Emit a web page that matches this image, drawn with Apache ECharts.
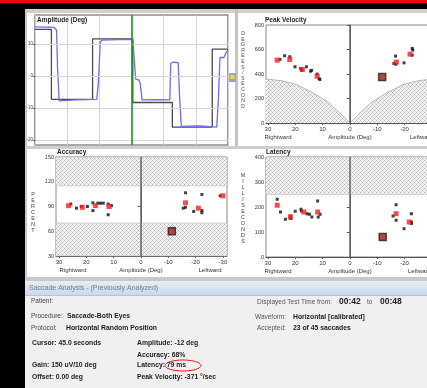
<!DOCTYPE html>
<html><head><meta charset="utf-8">
<script src="https://cdn.jsdelivr.net/npm/echarts@6/dist/echarts.min.js"></script>
<style>html,body{margin:0;padding:0;background:#000;}#c{width:427px;height:388px;}</style>
</head><body><div id="c"></div>
<script>
// ---------- data ----------
const traceTimeTicks = [42, 43, 44, 45, 46, 47, 48];
const traceYTicks = [-20, -10, 0, 10];
const cursorTime = 45.0;
const targetTrace = [[42,14.6],[42.51,14.6],[42.51,-7.3],[43.79,-7.3],[43.79,11.6],[45.04,11.6],[45.04,-8.3],[46.27,-8.3],[46.27,-16.0],[47.51,-16.0],[47.51,8.4],[48,8.4]];
const eyeTrace = [[42,15.4],[42.59,15.2],[42.67,14.4],[42.70,2.9],[42.75,-7.8],[43.27,-7.5],[43.92,-7.3],[43.97,-2.3],[44.03,10.7],[44.10,11.25],[44.6,11.4],[45.04,11.5],[45.09,11.25],[45.13,-1.0],[45.23,-1.25],[45.27,-2.3],[45.33,-7.5],[45.8,-7.4],[46.19,-7.5],[46.22,4.0],[46.29,4.3],[46.45,4.2],[46.5,-7.5],[46.55,-15.8],[47.12,-15.6],[47.65,-16.0],[47.70,-7.5],[47.75,5.8],[47.87,5.8],[47.94,7.3],[48.0,8.1]];

const ampTicks = [30, 20, 10, 0, -10, -20, -30];

const velBoundary = [[31,360],[25,345],[20,318],[14,253],[8,171],[3.3,73],[0,0],[-3.3,73],[-8,171],[-14,253],[-20,318],[-25,345],[-31.5,362]];
const velBlack = [[25.6,519],[23.9,549],[22,541],[20.1,459],[18,445],[17.6,430],[15.9,459],[14.4,423],[14,430],[12,399],[11.3,363],[11,355],[-16.7,546],[-16.1,486],[-16.8,480],[-19.8,491],[-22.8,554],[-22.8,609],[-23,595]];
const velRed = [[26.6,513],[22,519],[17.4,437],[12,382],[-17,497],[-22,562]];
const velSelected = [[-11.8,375]];

const accNormalBand = [70, 115];
const accBlack = [[25.7,93],[23.6,88],[21.8,90],[19.6,90],[17.6,85],[17.6,94.5],[15.8,94],[14.8,94],[13.8,94],[12,93],[10.8,91],[12,80],[-16.3,106.6],[-15.5,88],[-16.3,89],[-19.3,84],[-22.3,85],[-22.3,82.5],[-22.3,104.6],[-29,103]];
const accRed = [[26.5,91],[21.5,89],[16.7,91],[11.7,90],[-16.3,94.5],[-21,88],[-30,103]];
const accSelected = [[-11.3,60]];

const latLimit = 250;
const latBlack = [[26.6,231],[25.4,180],[23.6,151],[21.8,164],[21.6,154],[20,183],[17.9,191],[17.7,184],[15.7,173],[14.8,171],[13.9,160],[11.8,224],[11.6,160],[10.9,171],[-15.8,164],[-16.9,209],[-16.9,147],[-19.8,113],[-22.5,173],[-22.5,140],[-22.5,134]];
const latRed = [[26.6,207],[21.8,160],[16.9,180],[11.8,180],[-16.9,173],[-21.7,140]];
const latSelected = [[-12,80]];

// ---------- styles ----------
const hatch = document.createElement('canvas');
hatch.width = 4; hatch.height = 4;
(function(){const g=hatch.getContext('2d');g.fillStyle='#f4f4f4';g.fillRect(0,0,4,4);g.fillStyle='#b4b4b4';g.fillRect(0,0,1,1);g.fillRect(2,2,1,1);g.fillStyle='#d2d2d2';g.fillRect(1,1,1,1);g.fillRect(3,3,1,1);g.fillRect(3,1,1,1);g.fillRect(1,3,1,1);})();
const hatchFill = {image: hatch, repeat: 'repeat'};

const F = 'Liberation Sans, Arial, sans-serif';
const tinyLab = {fontSize: 5.5, color: '#333', fontFamily: F};

function ampX(gi){
  return {type:'value', gridIndex: gi, inverse: true, min: -31.5, max: gi===2 ? 31.1 : 30.7,
    axisLine:{show:true, lineStyle:{color:'#555'}},
    axisTick:{show:true, customValues: ampTicks, length: 2, lineStyle:{color:'#555'}},
    axisLabel:{customValues: ampTicks, ...tinyLab, fontSize: 6, margin: 3, hideOverlap:false},
    splitLine:{show:false}};
}
function valY(gi, min, max, iv){
  return {type:'value', gridIndex: gi, min, max, interval: iv,
    axisLine:{show:true, lineStyle:{color:'#555'}},
    axisTick:{show:true, length: 3, lineStyle:{color:'#555'}},
    axisLabel:{...tinyLab, margin: 2},
    splitLine:{show:false}};
}
function centerLine(){
  return {silent:true, symbol:'none', label:{show:false}, lineStyle:{color:'#666', width:1.5, type:'solid'}, data:[{xAxis:0}]};
}
function pts(gi, data, kind){
  const st = kind==='black' ? {symbolSize:3, itemStyle:{color:'#111'}} :
             kind==='red' ? {symbolSize:5, itemStyle:{color:'#ff1a1a'}} :
             {symbolSize:7, itemStyle:{color:'#b01818', borderColor:'#222', borderWidth:1.5}};
  return {type:'scatter', xAxisIndex: gi, yAxisIndex: gi, data, symbol:'rect', silent:true, z: kind==='sel'?6:(kind==='red'?5:4), ...st};
}
function txt(x, y, s, o){
  o = o || {};
  return {type:'text', x, y, z: 100, silent:true, style:{text:s, fontSize:o.size||7, fontWeight:o.bold?'bold':'normal', fontFamily:o.font||F, fill:o.color||'#222', align:o.align||'left', verticalAlign:'middle', lineHeight:o.lh}};
}
function rect(x,y,w,h,fill,z){
  return {type:'rect', z: z===undefined?-10:z, silent:true, shape:{x,y,width:w,height:h}, style:{fill}};
}
function vert(s){ return s.split('').join('\n'); }

const graphic = [
  rect(0,0,427,388,'#000',-20),
  rect(0,0,427,3,'#e01010',-19),
  rect(25,9,402,270,'#ffffff',-19),
  rect(25,9,402,4,'#d0d0d0',-18),
  rect(25,9,2,270,'#c8c8c8',-18),
  rect(235,9,3,139,'#c4c4c4',-18),
  rect(25,146,402,3,'#cfcfcf',-18),
  rect(25,277,402,4,'#c8c8c8',-18),
  rect(25,281,402,107,'#f0f0f0',-19),
  {type:'rect', z:-18, silent:true, shape:{x:25,y:281,width:402,height:14}, style:{fill:new echarts.graphic.LinearGradient(0,0,0,1,[{offset:0,color:'#e6eef8'},{offset:1,color:'#c9d9ec'}])}},
  rect(25,295,402,1,'#b8c4d2',-18),
  rect(229,73,7,9,'#9fa0c0',50),
  {type:'circle', z:51, silent:true, shape:{cx:232.5,cy:77,r:2.3}, style:{fill:'#f0e020'}},
  txt(37,20,'Amplitude (Deg)',{size:6.5,bold:true}),
  txt(265,20,'Peak Velocity',{size:6.5,bold:true}),
  txt(57,152,'Accuracy',{size:6.5,bold:true}),
  txt(266,152,'Latency',{size:6.5,bold:true}),
  txt(243,70,vert('DEGREES/SECOND'),{size:5,lh:5.6,align:'center',color:'#444'}),
  txt(33,212,vert('PERCENT'),{size:5.5,lh:6,align:'center',color:'#444'}),
  txt(243,208,vert('MILLISECONDS'),{size:5.5,lh:6,align:'center',color:'#444'}),
  txt(278,137,'Rightward',{size:6,align:'center',color:'#333'}),
  txt(350,137,'Amplitude (Deg)',{size:6,align:'center',color:'#333'}),
  txt(410,137,'Leftward',{size:6,color:'#333'}),
  txt(73,270,'Rightward',{size:6,align:'center',color:'#333'}),
  txt(141,270,'Amplitude (Deg)',{size:6,align:'center',color:'#333'}),
  txt(210,270,'Leftward',{size:6,align:'center',color:'#333'}),
  txt(278,271,'Rightward',{size:6,align:'center',color:'#333'}),
  txt(350,271,'Amplitude (Deg)',{size:6,align:'center',color:'#333'}),
  txt(408,271,'Leftward',{size:6,color:'#333'}),
  txt(29,288,'Saccade Analysis - (Previously Analyzed)',{size:7,color:'#6d7b8a'}),
  txt(31,301,'Patient:',{size:6.5,color:'#444'}),
  txt(31,316,'Procedure:',{size:6.5,color:'#444'}),
  txt(67,316,'Saccade-Both Eyes',{size:6.8,bold:true}),
  txt(31,328,'Protocol:',{size:6.5,color:'#444'}),
  txt(66,328,'Horizontal Random Position',{size:6.8,bold:true}),
  txt(32,343,'Cursor: 45.0 seconds',{size:6.8,bold:true}),
  txt(137,343,'Amplitude: -12 deg',{size:6.8,bold:true}),
  txt(137,355,'Accuracy: 68%',{size:6.8,bold:true}),
  txt(32,365,'Gain: 150 uV/10 deg',{size:6.8,bold:true}),
  txt(137,365,'Latency: 79 ms',{size:6.8,bold:true}),
  txt(32,377,'Offset: 0.00 deg',{size:6.8,bold:true}),
  txt(137,377,'Peak Velocity: -371 °/sec',{size:6.8,bold:true}),
  {type:'ellipse', z:101, silent:true, shape:{cx:183,cy:365.5,rx:18,ry:5.5}, style:{fill:null, stroke:'#e02020', lineWidth:1}},
  txt(257,302,'Displayed Test Time from:',{size:6.5,color:'#555'}),
  txt(339,302,'00:42',{size:8.5,bold:true}),
  txt(367,302,'to',{size:6.5,color:'#555'}),
  txt(380,302,'00:48',{size:8.5,bold:true}),
  txt(255,317,'Waveform:',{size:6.5,color:'#555'}),
  txt(293,317,'Horizontal [calibrated]',{size:6.8,bold:true}),
  txt(257,328,'Accepted:',{size:6.5,color:'#555'}),
  txt(293,328,'23 of 45 saccades',{size:6.8,bold:true})
];

const gridBase = {show:true, backgroundColor:'#fff', containLabel:false, outerBoundsMode:'none'};
const option = {
  animation: false,
  backgroundColor: 'transparent',
  graphic,
  grid: [
    {...gridBase, left:35, top:15, width:193, height:130, borderColor:'#555', borderWidth:1.2},
    {...gridBase, left:266, top:25, width:170, height:98, borderColor:'#888', borderWidth:1},
    {...gridBase, left:56, top:157, width:171, height:99, borderColor:'#888', borderWidth:1},
    {...gridBase, left:266, top:157, width:170, height:100, borderColor:'#888', borderWidth:1}
  ],
  xAxis: [
    {type:'value', gridIndex:0, min:42, max:48, interval:1, axisLine:{show:false}, axisTick:{show:false}, axisLabel:{show:false}, splitLine:{show:true, lineStyle:{color:'#d6d6d6', width:1}}},
    ampX(1), ampX(2), ampX(3)
  ],
  yAxis: [
    {type:'value', gridIndex:0, min:-21.6, max:19.1, axisLine:{show:false},
     axisTick:{show:true, customValues: traceYTicks, length:2, lineStyle:{color:'#555'}},
     axisLabel:{customValues: traceYTicks, fontSize:4.5, color:'#444', margin:2, fontFamily:F}, splitLine:{show:false}},
    valY(1,0,800,200), valY(2,30,150,30), valY(3,0,400,100)
  ],
  series: [
    {type:'line', xAxisIndex:0, yAxisIndex:0, data: traceYTicks.map(v=>[42,v]), symbol:'none', lineStyle:{opacity:0}, silent:true,
     markLine:{silent:true, symbol:'none', label:{show:false}, lineStyle:{color:'#d6d6d6', width:1, type:'solid'}, data: traceYTicks.map(v=>({yAxis:v}))}},
    {type:'line', xAxisIndex:0, yAxisIndex:0, data: targetTrace, symbol:'none', lineStyle:{color:'#4a4a4a', width:1.3}, silent:true, z:3},
    {type:'line', xAxisIndex:0, yAxisIndex:0, data: eyeTrace, symbol:'none', lineStyle:{color:'#6b6bff', width:1.3}, silent:true, z:4,
     markLine:{silent:true, symbol:'none', label:{show:false}, lineStyle:{color:'#1a961a', width:1.6, type:'solid'}, data:[{xAxis: cursorTime}]}},
    {type:'line', xAxisIndex:1, yAxisIndex:1, data: velBoundary, symbol:'none', silent:true, z:2,
     lineStyle:{color:'#aaaaaa', width:0.8}, areaStyle:{color: hatchFill, opacity:1}, markLine: centerLine()},
    pts(1, velBlack, 'black'), pts(1, velRed, 'red'), pts(1, velSelected, 'sel'),
    {type:'line', xAxisIndex:2, yAxisIndex:2, data: [], symbol:'none', silent:true,
     markArea:{silent:true, itemStyle:{color: hatchFill, borderColor:'#bbb', borderWidth:0.5}, data:[[{yAxis:accNormalBand[1]},{yAxis:150}],[{yAxis:30},{yAxis:accNormalBand[0]}]]},
     markLine: centerLine()},
    pts(2, accBlack, 'black'), pts(2, accRed, 'red'), pts(2, accSelected, 'sel'),
    {type:'line', xAxisIndex:3, yAxisIndex:3, data: [], symbol:'none', silent:true,
     markArea:{silent:true, itemStyle:{color: hatchFill, borderColor:'#bbb', borderWidth:0.5}, data:[[{yAxis:latLimit},{yAxis:400}]]},
     markLine: centerLine()},
    pts(3, latBlack, 'black'), pts(3, latRed, 'red'), pts(3, latSelected, 'sel')
  ]
};
const chart = echarts.init(document.getElementById('c'), null, {renderer:'canvas'});
chart.setOption(option);
</script></body></html>
